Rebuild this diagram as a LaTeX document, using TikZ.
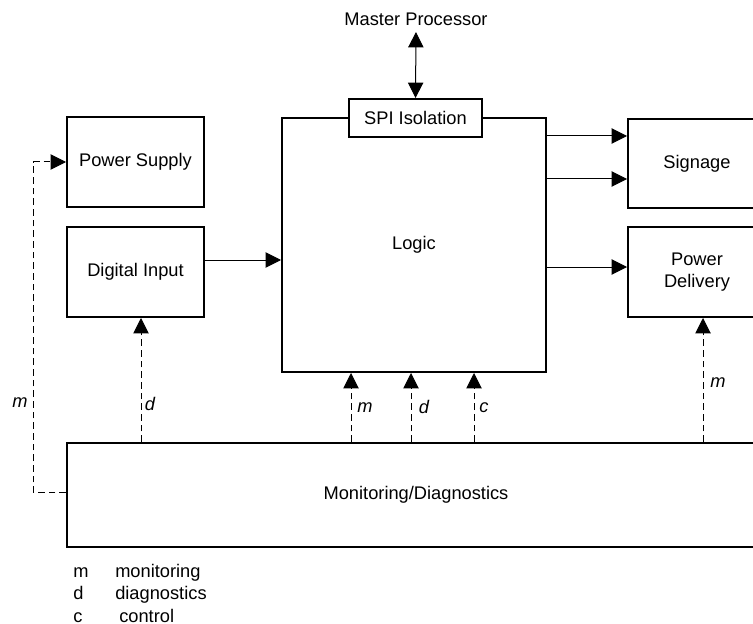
\documentclass[tikz,border=0pt]{standalone}
\usepackage{fontspec}
\setmainfont{Liberation Sans}
\usetikzlibrary{arrows.meta}
\begin{document}
\begin{tikzpicture}[x=0.75pt,y=-0.75pt,
  font=\fontsize{13.7}{16}\selectfont,
  box/.style={draw,line width=1.5pt,fill=white,inner sep=0pt,align=center},
  arr/.style={line width=0.75pt,-{Triangle[length=11.5pt,width=11.5pt]}},
  darr/.style={arr,dash pattern=on 5pt off 3pt},
  dline/.style={line width=0.75pt,dash pattern=on 5pt off 3pt},
  lbl/.style={font=\fontsize{13.7}{16}\selectfont\itshape,inner sep=0pt},
  leg/.style={anchor=base west,inner sep=0pt}]
\path[use as bounding box,clip] (0,0) rectangle (753,624);
% boxes
\node[box,minimum width=137*0.75pt,minimum height=90*0.75pt] (PS) at (135.5,162) {Power Supply};
\node[box,minimum width=137*0.75pt,minimum height=90*0.75pt] (DI) at (135.5,272) {Digital Input};
\node[box,minimum width=264*0.75pt,minimum height=254*0.75pt] (LG) at (414,245) {Logic};
\node[box,minimum width=133*0.75pt,minimum height=38*0.75pt] (SPI) at (415.5,118) {SPI Isolation};
\node[box,minimum width=138*0.75pt,minimum height=89*0.75pt] (SG) at (697,163.5) {Signage};
\node[box,minimum width=138*0.75pt,minimum height=90*0.75pt] (PD) at (697,272) {Power\\Delivery};
\node[box,minimum width=698*0.75pt,minimum height=104*0.75pt] (MD) at (416,495) {Monitoring/Diagnostics};
\node[inner sep=0pt] (MP) at (416,19) {Master Processor};
\coordinate (MPb) at (416,32);
% solid connectors
\draw[line width=0.75pt,{Triangle[length=11.5pt,width=11.5pt]}-{Triangle[length=11.5pt,width=11.5pt]}] (MPb) -- (SPI.north);
\draw[arr] (DI.east |- 0,260) -- (LG.west |- 0,260);
\draw[arr] (LG.east |- 0,136) -- (SG.west |- 0,136);
\draw[arr] (LG.east |- 0,179) -- (SG.west |- 0,179);
\draw[arr] (LG.east |- 0,267) -- (PD.west |- 0,267);
% dashed connectors
\coordinate (c1) at (33,492);
\coordinate (c2) at (33,162);
\draw[dline] (MD.west |- c1) -- (c1) -- (c2);
\draw[darr] (c2) -- (PS.west);
\draw[darr] (MD.north -| 141,0) -- (DI.south -| 141,0);
\draw[darr] (MD.north -| 351,0) -- (LG.south -| 351,0);
\draw[darr] (MD.north -| 411,0) -- (LG.south -| 411,0);
\draw[darr] (MD.north -| 474,0) -- (LG.south -| 474,0);
\draw[darr] (MD.north -| 703,0) -- (PD.south -| 703,0);
% labels
\node[lbl] (l1) at (20,403) {m};
\node[lbl] (l2) at (150,404) {d};
\node[lbl] (l3) at (365,408) {m};
\node[lbl] (l4) at (424,407) {d};
\node[lbl] (l5) at (484,408) {c};
\node[lbl] (l6) at (718,383) {m};
% legend
\node[leg] (k1) at (73,577) {m};
\node[leg] (k2) at (73,599) {d};
\node[leg] (k3) at (73,622) {c};
\node[leg] (v1) at (115,577) {monitoring};
\node[leg] (v2) at (115,599) {diagnostics};
\node[leg] (v3) at (119,622) {control};
\end{tikzpicture}
\end{document}
